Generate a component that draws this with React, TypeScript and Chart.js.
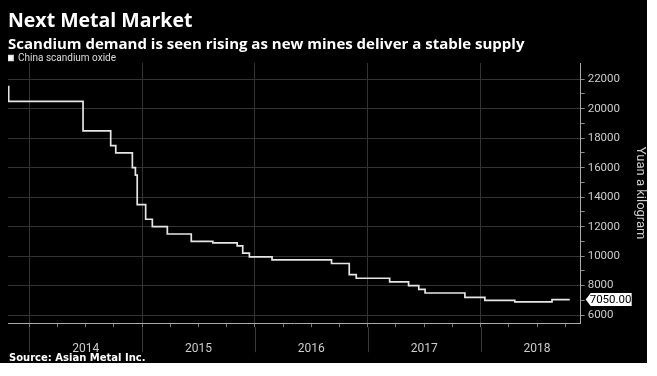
import React, { useEffect, useRef } from 'react';
import { Chart, registerables } from 'chart.js';

Chart.register(...registerables);

const TITLE = 'Next Metal Market';
const SUBTITLE = 'Scandium demand is seen rising as new mines deliver a stable supply';
const SOURCE = 'Source: Asian Metal Inc.';
const SERIES_NAME = 'China scandium oxide';
const Y_TITLE = 'Yuan a kilogram';
const LAST_LABEL = '7050.00';

// Decimal-year date at which each price level starts
const dates = [
  2013.812, 2013.818, 2014.477, 2014.722, 2014.767, 2014.914, 2014.941, 2014.957,
  2015.032, 2015.091, 2015.224, 2015.436, 2015.627, 2015.843, 2015.892, 2015.951,
  2016.152, 2016.679, 2016.836, 2016.898, 2017.194, 2017.362, 2017.452, 2017.508,
  2017.861, 2018.038, 2018.303, 2018.633, 2018.79,
];
// Yuan per kilogram
const prices = [
  21500, 20500, 18500, 17500, 17000, 16000, 15500, 13500,
  12500, 12000, 11500, 11000, 10900, 10700, 10200, 9950,
  9750, 9500, 8750, 8500, 8250, 8000, 7750, 7500,
  7200, 7000, 6900, 7050, 7050,
];

const years = [2014, 2015, 2016, 2017, 2018];
const yTickLabels = [6000, 8000, 10000, 12000, 14000, 16000, 18000, 20000, 22000];

const X_MIN = 2013.812;
const X_MAX = 2018.887;
const Y_MIN = 5450;
const Y_MAX = 23100;

const isInt = (v: number) => Math.abs(v - Math.round(v)) < 1e-6;
const isHalf = (v: number) => Math.abs(v - Math.floor(v) - 0.5) < 1e-6;

const decorPlugin = {
  id: 'decor',
  afterDraw(chart: any) {
    const { ctx, chartArea, scales } = chart;
    const xs = scales.x;
    const ys = scales.y;
    ctx.save();
    // year separators extending below the axis
    ctx.strokeStyle = '#3a3a3a';
    ctx.lineWidth = 1;
    years.forEach((yr) => {
      const px = Math.round(xs.getPixelForValue(yr)) + 0.5;
      ctx.beginPath();
      ctx.moveTo(px, chartArea.bottom + 4);
      ctx.lineTo(px, chartArea.bottom + 29);
      ctx.stroke();
    });
    // last value marker
    const last = prices[prices.length - 1];
    const py = ys.getPixelForValue(last);
    const x0 = chartArea.right + 5;
    const h = 13;
    const w = 46;
    ctx.fillStyle = '#ffffff';
    ctx.beginPath();
    ctx.moveTo(x0, py);
    ctx.lineTo(x0 + 5, py - h / 2);
    ctx.lineTo(x0 + w, py - h / 2);
    ctx.lineTo(x0 + w, py + h / 2);
    ctx.lineTo(x0 + 5, py + h / 2);
    ctx.closePath();
    ctx.fill();
    ctx.fillStyle = '#000000';
    ctx.font = '11.5px Roboto';
    ctx.textAlign = 'left';
    ctx.textBaseline = 'middle';
    ctx.fillText(LAST_LABEL, x0 + 4, py + 0.5);
    ctx.restore();
  },
};

export default function App() {
  const ref = useRef<HTMLCanvasElement | null>(null);

  useEffect(() => {
    document.body.style.margin = '0';
    const canvas = ref.current;
    if (!canvas) return;
    const xTicks: number[] = [];
    years.forEach((y) => {
      xTicks.push(y, y + 0.25, y + 0.5, y + 0.75);
    });
    const chart = new Chart(canvas, {
      type: 'line',
      data: {
        datasets: [
          {
            label: SERIES_NAME,
            data: dates.map((d, i) => ({ x: d, y: prices[i] })),
            borderColor: '#e6e6e6',
            backgroundColor: '#ffffff',
            borderWidth: 1.7,
            pointRadius: 0,
            stepped: 'before',
            fill: false,
          },
        ],
      },
      options: {
        animation: false,
        responsive: false,
        devicePixelRatio: 1,
        layout: { padding: { top: 53, left: 8, right: 0, bottom: 0 } },
        plugins: {
          tooltip: { enabled: false },
          title: { display: false },
          legend: {
            display: true,
            position: 'top',
            align: 'start',
            maxHeight: 10,
            labels: {
              color: '#dddddd',
              boxWidth: 5,
              boxHeight: 5,
              padding: 0,
              font: { family: 'Roboto', size: 10 },
            },
          },
        },
        scales: {
          x: {
            type: 'linear',
            min: X_MIN,
            max: X_MAX,
            afterBuildTicks: (scale: any) => {
              scale.ticks = xTicks.map((v) => ({ value: v }));
            },
            border: { display: true, color: '#aaaaaa', width: 1 },
            grid: {
              drawTicks: true,
              tickLength: 4,
              color: (c: any) => (c.tick && isInt(c.tick.value) ? '#333333' : 'rgba(0,0,0,0)'),
              tickColor: '#777777',
              lineWidth: 1,
            },
            ticks: {
              autoSkip: false,
              maxRotation: 0,
              padding: 14.2,
              color: '#cccccc',
              font: { family: 'Roboto', size: 12 },
              callback: (v: any) => (isHalf(Number(v)) ? String(Math.floor(Number(v))) : ''),
            },
          },
          y: {
            type: 'linear',
            position: 'right',
            min: Y_MIN,
            max: Y_MAX,
            afterBuildTicks: (scale: any) => {
              const t: any[] = [];
              for (let v = yTickLabels[0]; v <= yTickLabels[yTickLabels.length - 1]; v += 1000) t.push({ value: v });
              scale.ticks = t;
            },
            border: { display: true, color: '#aaaaaa', width: 1 },
            grid: {
              drawTicks: true,
              tickLength: 4,
              color: (c: any) =>
                c.tick && yTickLabels.includes(c.tick.value) ? '#333333' : 'rgba(0,0,0,0)',
              tickColor: '#888888',
            },
            ticks: {
              autoSkip: false,
              padding: 3,
              color: '#cccccc',
              font: { family: 'Roboto', size: 11.5 },
              callback: (v: any) => (yTickLabels.includes(Number(v)) ? String(v) : ''),
            },
            title: {
              display: true,
              text: Y_TITLE,
              color: '#cccccc',
              font: { family: 'Roboto', size: 13, lineHeight: 1 },
              padding: { top: 0, bottom: 11 },
            },
          },
        },
      },
      plugins: [decorPlugin],
    } as any);
    return () => chart.destroy();
  }, []);

  return (
    <div
      style={{
        position: 'relative',
        width: 647,
        height: 363,
        background: '#000',
        fontFamily: 'Roboto, sans-serif',
        color: '#fff',
        overflow: 'hidden',
      }}
    >
      <canvas ref={ref} width={647} height={370} style={{ position: 'absolute', left: 0, top: 0, width: 647, height: 370 }} />
      <div style={{ position: 'absolute', left: 8, top: 8, fontFamily: '"Open Sans", sans-serif', fontSize: 19.5, lineHeight: '24px', fontWeight: 700, whiteSpace: 'nowrap' }}>
        {TITLE}
      </div>
      <div style={{ position: 'absolute', left: 8, top: 34, fontFamily: '"Open Sans", sans-serif', fontSize: 15, lineHeight: '18px', fontWeight: 700, whiteSpace: 'nowrap' }}>
        {SUBTITLE}
      </div>
      <div style={{ position: 'absolute', left: 9, top: 352, fontFamily: '"DejaVu Sans", sans-serif', fontSize: 10, lineHeight: '12px', fontWeight: 700, whiteSpace: 'nowrap' }}>
        {SOURCE}
      </div>
    </div>
  );
}
